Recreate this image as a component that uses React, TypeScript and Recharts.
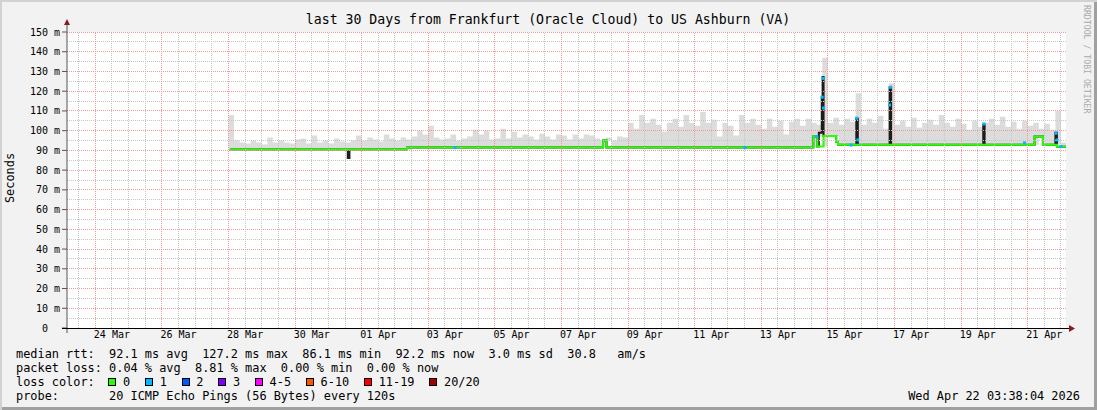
import { ComposedChart, Area, Line, Scatter, XAxis, YAxis, ReferenceLine, CartesianGrid } from "recharts"

const MONO = "'DejaVu Sans Mono', monospace"

// time axis is in hours since 23 Mar 00:00
const START_H = 3.633 // 23 Mar 03:38
const END_H = 723.633 // 22 Apr 03:38

const tickLabels = [
    "24 Mar", "26 Mar", "28 Mar", "30 Mar", "01 Apr", "03 Apr", "05 Apr", "07 Apr",
    "09 Apr", "11 Apr", "13 Apr", "15 Apr", "17 Apr", "19 Apr", "21 Apr",
]
const yTicks = [0, 10, 20, 30, 40, 50, 60, 70, 80, 90, 100, 110, 120, 130, 140, 150]

// smoke (ping spread) top, one value per 4 hours from 28 Mar 00:00
const SMOKE_T0 = 120
const SMOKE_STEP = 4
const smokeTop = [
    108, 95, 94, 93.5, 95, 94, 93, 96.5, 94, 95, 94, 93.5, 95.5, 96, 93.5, 97.5, 94, 95, 93.5, 96, 94.5,
    94, 95, 97.5, 95, 96.5, 95.5, 94.5, 98, 96, 95, 96.5, 95.5, 97, 100, 98, 102.5, 96.5, 95.5, 96, 98,
    95, 96, 97, 100.5, 98, 100, 95.5, 96, 101, 96, 99.5, 96.5, 98, 97, 95.5, 98.5, 97, 95.5, 98, 97.5,
    95.5, 98, 96, 98, 97.5, 96, 95, 96.5, 95, 97, 96.5, 104, 101, 108, 104, 106, 103, 99.5, 104, 106,
    102, 108, 104, 102.5, 109.5, 104, 105.5, 97, 104, 102.5, 97.5, 108, 104, 106, 103, 101, 106, 102, 105, 98,
    104.5, 106, 102.5, 106, 104, 103, 137, 104, 106.5, 103, 106, 104.5, 119, 103, 106, 104, 107.5, 101, 124, 103,
    105, 102, 106.5, 101.5, 104, 105.5, 103, 108, 104, 102, 106, 103.5, 100.5, 105, 102, 104, 106, 103, 107, 102,
    104.5, 101, 105, 102.5, 104, 101, 103.5, 100.5, 110, 94,
]

// median rtt (ms), step changes
const medianHours = [
    121, 206, 207.2, 248.7, 390, 392.5, 541.5, 544.5, 545.5, 547.6, 548.2, 548.9, 558, 559.3,
    572.5, 573.6, 596.5, 597.6, 664, 665, 701, 707, 716, 717.1, 723.6,
]
const medianValues = [
    90.5, 86.1, 90.4, 91.5, 95, 91.5, 97, 92, 99, 117, 127.2, 97.3, 94.4, 92.9,
    106, 92.9, 122, 92.9, 103, 92.9, 97, 92.9, 99, 91.8, 91.8,
]
const medianSpike = [0, 1, 0, 0, 0, 0, 0, 0, 1, 1, 1, 0, 0, 0, 1, 0, 1, 0, 1, 0, 0, 0, 1, 0, 0]

// samples with 1/20 loss
const lossHours = [283.3, 492.3, 543.9, 547.9, 548.5, 548.9, 568.7, 572.8, 573.6, 596.5, 597.1, 664.5, 693.7, 716.5, 717.1, 720]
const lossValues = [91.4, 91.4, 97, 117, 126.5, 111.5, 92.7, 106.3, 95.3, 113, 122, 103.4, 93.8, 98.7, 95.3, 91.9]

const lossLabels = ["0", "1", "2", "3", "4-5", "6-10", "11-19", "20/20"]
const lossSwatches = ["#26ff00", "#00b8ff", "#0059ff", "#7e00ff", "#ff00ff", "#ff5500", "#ff0000", "#a10000"]

const rttLine = "median rtt:  92.1 ms avg  127.2 ms max  86.1 ms min  92.2 ms now  3.0 ms sd  30.8   am/s"
const lossLine = "packet loss: 0.04 % avg  8.81 % max  0.00 % min  0.00 % now"
const probeLine = "probe:       20 ICMP Echo Pings (56 Bytes) every 120s"
const stamp = "Wed Apr 22 03:38:04 2026"
const title = "last 30 Days from Frankfurt (Oracle Cloud) to US Ashburn (VA)"

const medianRows = medianHours.map((h, i) => ({ h, v: medianValues[i] }))
const greenRows = medianRows.filter((_, i) => !medianSpike[i])

function baseAt(h: number) {
    let v = greenRows[0].v
    for (const r of greenRows) if (r.h <= h) v = r.v
    return v
}

const smokeRows = smokeTop.map((top, i) => {
    const h = SMOKE_T0 + i * SMOKE_STEP
    return { h, band: [baseAt(h), top] }
})
smokeRows.push({ h: END_H, band: smokeRows[smokeRows.length - 1].band })

const lossRows = lossHours.map((h, i) => ({ h, v: lossValues[i] }))

const tickHours = tickLabels.map((_, i) => 36 + 48 * i)
const gridHours: number[] = []
for (let h = 12; h < END_H; h += 12) gridHours.push(h)
const majorV = gridHours.filter((h) => (h - 24) % 48 === 0)
const minorV = gridHours.filter((h) => (h - 24) % 48 !== 0)
const majorH = yTicks.filter((v) => v > 0)
const minorH = yTicks.map((v) => v + 5).filter((v) => v < 150)

// dotted grid line snapped to the pixel grid, like rrdtool draws it
const gridShape = (color: string) => (p: any) => {
    const snap = (n: number) => Math.floor(n) + 0.5
    const vertical = Math.abs(p.x1 - p.x2) < 0.01
    const x1 = vertical ? snap(p.x1) : p.x1
    const x2 = vertical ? snap(p.x2) : p.x2
    const y1 = vertical ? p.y1 : snap(p.y1)
    const y2 = vertical ? p.y2 : snap(p.y2)
    return <line x1={x1} y1={y1} x2={x2} y2={y2} stroke={color} strokeWidth={1} strokeDasharray="1 1" />
}
const minorShape = gridShape("#c6c6c6")
const majorShape = gridShape("#f29a9a")

const YTick = (props: any) => {
    const { x, y, payload } = props
    const v = payload.value
    return (
        <g fontSize={10} fontFamily={MONO} fill="#000">
            <text x={x - 12} y={y} dy={3.5} textAnchor="end">{v}</text>
            {v !== 0 && <text x={x} y={y} dy={3.5} textAnchor="end">m</text>}
        </g>
    )
}

const XTick = (props: any) => {
    const { x, y, payload } = props
    const idx = Math.round((payload.value - 36) / 48)
    return (
        <text x={x} y={y} dy={10} textAnchor="middle" fontSize={10} fontFamily={MONO} fill="#000">
            {tickLabels[idx]}
        </text>
    )
}

const LossSquare = (props: any) => {
    const { cx, cy } = props
    return <rect x={cx - 1.5} y={cy - 1.5} width={3} height={3} fill="#00b8ff" />
}

const textLine = { position: "absolute" as const, fontSize: 11.9, lineHeight: "14px", whiteSpace: "pre" as const, color: "#000" }

export default function App() {
    return (
        <div
            style={{
                position: "absolute", left: 0, top: 0, width: 1097, height: 410,
                background: "#f2f2f2", boxShadow: "inset 2px 2px 0 #d2d2d2, inset -3px -3px 0 #a0a0a0",
                fontFamily: MONO,
            }}
        >
            <div style={{ position: "absolute", left: 0, top: 0 }}>
                <ComposedChart width={1097} height={345} margin={{ top: 32, right: 31, bottom: 0, left: 0 }}>
                    <CartesianGrid horizontal={false} vertical={false} fill="#ffffff" fillOpacity={1} />
                    <XAxis
                        type="number" dataKey="h" domain={[START_H, END_H]} allowDataOverflow
                        ticks={tickHours} tick={<XTick />} tickLine={false} axisLine={false}
                        tickSize={0} tickMargin={0} height={17} interval={0}
                    />
                    <YAxis
                        type="number" domain={[0, 150]} ticks={yTicks} allowDataOverflow width={67}
                        tick={<YTick />} tickSize={5} tickMargin={2} axisLine={false}
                        tickLine={{ stroke: "#555" }} interval={0}
                    />
                    <Area
                        data={smokeRows} dataKey="band" type="stepAfter" stroke="none"
                        fill="#dcdcdc" fillOpacity={1} isAnimationActive={false}
                    />
                    <Line
                        data={medianRows} dataKey="v" type="stepAfter" stroke="#1c1c1c"
                        strokeWidth={2} dot={false} isAnimationActive={false}
                    />
                    <Line
                        data={greenRows} dataKey="v" type="stepAfter" stroke="#26ff00"
                        strokeWidth={2} dot={false} isAnimationActive={false}
                    />
                    <Scatter data={lossRows} dataKey="v" shape={<LossSquare />} isAnimationActive={false} />
                    {minorV.map((h) => (
                        <ReferenceLine key={`mv${h}`} x={h} shape={minorShape} />
                    ))}
                    {minorH.map((v) => (
                        <ReferenceLine key={`mh${v}`} y={v} shape={minorShape} />
                    ))}
                    {majorV.map((h) => (
                        <ReferenceLine key={`Mv${h}`} x={h} shape={majorShape} />
                    ))}
                    {majorH.map((v) => (
                        <ReferenceLine key={`Mh${v}`} y={v} shape={majorShape} />
                    ))}
                </ComposedChart>
            </div>

            <svg width={1097} height={410} style={{ position: "absolute", left: 0, top: 0, pointerEvents: "none" }}>
                <line x1={67} y1={333} x2={67} y2={24} stroke="#555" />
                <line x1={62} y1={328.5} x2={1070} y2={328.5} stroke="#000" />
                <polygon points="64,25 70,25 67,19" fill="#8b1a1a" />
                <polygon points="1069,325 1069,332 1075,328.5" fill="#8b1a1a" />
                <text x={548} y={23.5} textAnchor="middle" fontSize={13.2} fontFamily={MONO} fill="#000">
                    {title}
                </text>
                <text
                    x={0} y={0} transform="translate(14,178) rotate(-90)" textAnchor="middle"
                    fontSize={11.9} fontFamily={MONO} fill="#000"
                >
                    Seconds
                </text>
                <text
                    x={0} y={0} transform="translate(1084,5) rotate(90)" textAnchor="start"
                    fontSize={8.2} fontFamily={MONO} fill="#aaaaaa"
                >
                    RRDTOOL / TOBI OETIKER
                </text>
            </svg>

            <div style={{ ...textLine, left: 16, top: 347 }}>{rttLine}</div>
            <div style={{ ...textLine, left: 16, top: 361 }}>{lossLine}</div>
            <div style={{ ...textLine, left: 16, top: 375 }}>loss color:</div>
            <div style={{ ...textLine, left: 108.3, top: 375, display: "flex", alignItems: "center", height: 14 }}>
                {lossLabels.map((l, i) => (
                    <div key={l} style={{ display: "flex", alignItems: "center", marginRight: 14.8 }}>
                        <div
                            style={{
                                width: 8, height: 8, boxSizing: "border-box", border: "1px solid #000",
                                background: lossSwatches[i], marginRight: 6.7,
                            }}
                        />
                        <span>{l}</span>
                    </div>
                ))}
            </div>
            <div style={{ ...textLine, left: 16, top: 389 }}>{probeLine}</div>
            <div style={{ ...textLine, right: 17, top: 389 }}>{stamp}</div>
        </div>
    )
}
